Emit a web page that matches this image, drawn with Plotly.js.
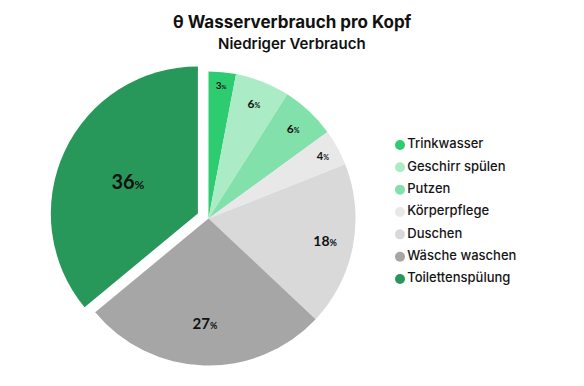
<!DOCTYPE html>
<html>
<head>
<meta charset="utf-8">
<script src="https://cdn.plot.ly/plotly-3.0.1.min.js"></script>
<style>html,body{margin:0;padding:0;background:#fff;}#chart{width:584px;height:386px;}</style>
</head>
<body>
<div id="chart"></div>
<script>
const categories = ["Trinkwasser", "Geschirr spülen", "Putzen", "Körperpflege", "Duschen", "Wäsche waschen", "Toilettenspülung"];
const values = [3, 6, 6, 4, 18, 27, 36];
const colors = ["#2ecc71", "#abebc6", "#82e0aa", "#e8e8e8", "#d9d9d9", "#a6a6a6", "#27985a"];
const pulls = [0, 0, 0, 0, 0, 0, 0.08];
const numSizes = [10, 12, 12, 11, 14, 15, 20];
// which transparent label ring each slice's percentage is drawn in (controls radial label position)
const labelRing = [2, 2, 2, 2, 2, 1, 0];
const ringHoles = [0, 0.42, 0.62];
const title = "θ Wasserverbrauch pro Kopf";
const subtitle = "Niedriger Verbrauch";

const texts = values.map((v, i) => v + '<span style="font-size:' + Math.round(numSizes[i] * 0.62) + 'px">%</span>');
const pieDomain = {x: [49.7/584, 367.3/584], y: [1 - 377.3/386, 1 - 59.7/386]};

const pie = {
  type: 'pie',
  labels: categories,
  values: values,
  sort: false,
  direction: 'clockwise',
  rotation: 0,
  pull: pulls,
  marker: {colors: colors, line: {width: 0}},
  textinfo: 'none',
  showlegend: false,
  hoverinfo: 'label+percent',
  domain: pieDomain
};

const labelPies = ringHoles.map((h, r) => ({
  type: 'pie',
  labels: categories,
  values: values,
  sort: false,
  direction: 'clockwise',
  rotation: 0,
  pull: pulls,
  hole: h,
  marker: {colors: colors.map(() => 'rgba(0,0,0,0)'), line: {width: 0}},
  text: texts.map((t, i) => labelRing[i] === r ? t : ''),
  textinfo: 'text',
  texttemplate: '%{text}',
  textposition: 'inside',
  insidetextorientation: 'horizontal',
  textfont: {family: 'Lato, sans-serif', size: numSizes, color: '#111111', weight: 700},
  showlegend: false,
  hoverinfo: 'skip',
  domain: pieDomain
}));

const legendTrace = {
  type: 'scatter',
  mode: 'markers+text',
  x: categories.map(() => 0),
  y: categories.map((c, i) => i),
  text: categories,
  textposition: 'middle right',
  textfont: {family: 'Inter, Roboto, sans-serif', size: 13, color: '#151515', weight: 500},
  marker: {symbol: 'circle', size: 10, color: colors},
  showlegend: false,
  hoverinfo: 'skip',
  cliponaxis: false
};

const layout = {
  width: 584, height: 386,
  margin: {l: 0, r: 0, t: 0, b: 0},
  paper_bgcolor: '#ffffff', plot_bgcolor: 'rgba(0,0,0,0)',
  xaxis: {visible: false, domain: [400/584, 1], range: [0, 1], fixedrange: true},
  yaxis: {visible: false, domain: [1 - 290.2/386, 1 - 133.8/386], range: [6.5, -0.5], fixedrange: true},
  showlegend: false,
  annotations: [
    {text: '<b>' + title + '</b>', xref: 'paper', yref: 'paper', x: 0.5, y: 1 - 22/386, xanchor: 'center', yanchor: 'middle', showarrow: false,
     font: {family: 'Inter, Roboto, sans-serif', size: 17, color: '#111111', weight: 800}},
    {text: subtitle, xref: 'paper', yref: 'paper', x: 0.5, y: 1 - 44/386, xanchor: 'center', yanchor: 'middle', showarrow: false,
     font: {family: 'Inter, Roboto, sans-serif', size: 15, color: '#111111', weight: 600}}
  ]
};

Plotly.newPlot('chart', [pie].concat(labelPies, [legendTrace]), layout, {displayModeBar: false, staticPlot: true});
</script>
</body>
</html>
